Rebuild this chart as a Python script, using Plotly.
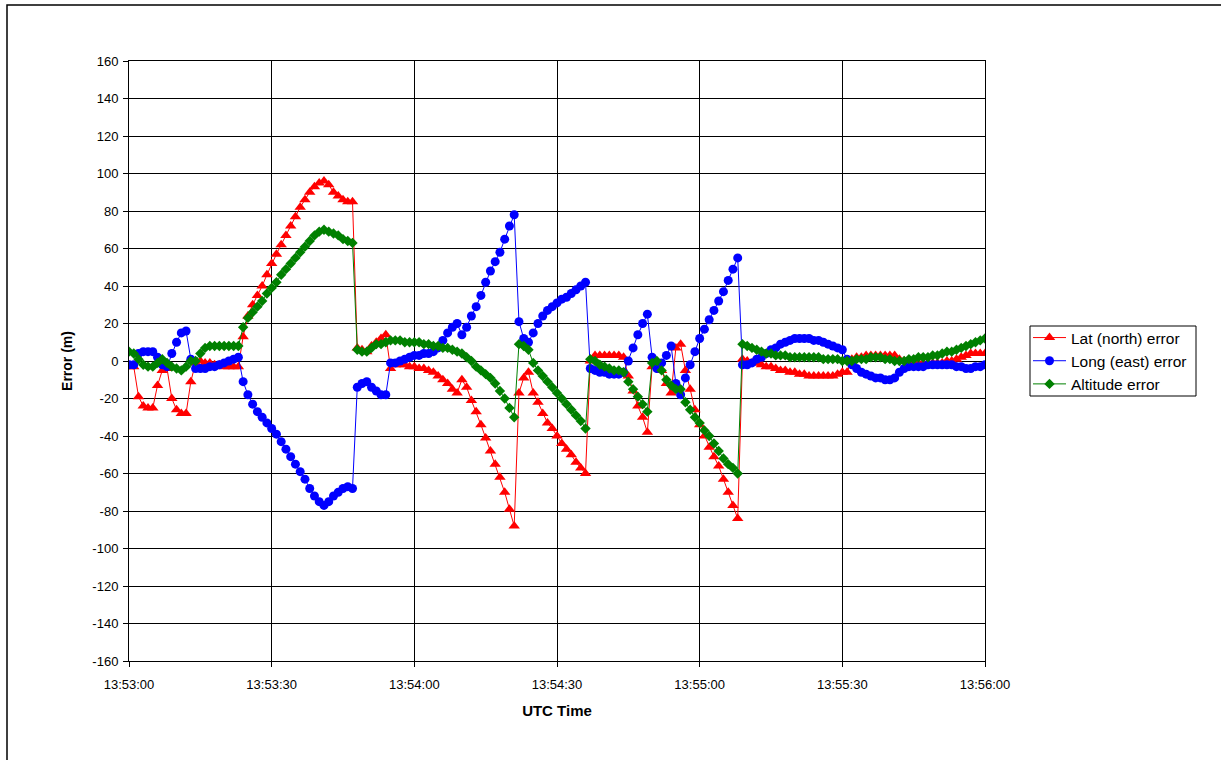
import pandas as pd
import plotly.graph_objects as go

# Position error samples logged once per second from 13:53:00 to 13:56:00
start_time = "2009-06-01 13:53:00"
n_samples = 181

lat_error = [
    -3, -3, -19, -24, -25, -25, -13, -5, -4, -20,
    -26, -28, -28, -11, -1, 0, -1, -1, -2, -2,
    -3, -3, -3, -3, 13, 24, 30, 35, 40, 46,
    52, 57, 62, 67, 72, 77, 82, 86, 90, 93,
    95, 96, 94, 90, 88, 86, 85, 85, 7, 6,
    5, 8, 10, 12, 14, -4, -2, -2, -2, -3,
    -3, -4, -4, -5, -6, -8, -10, -12, -15, -17,
    -10, -14, -21, -27, -34, -41, -48, -55, -62, -70,
    -79, -88, -17, -9, -6, -17, -22, -28, -33, -36,
    -40, -44, -47, -50, -54, -57, -60, 0, 3, 3,
    3, 3, 3, 3, 2, -8, -16, -24, -30, -38,
    -3, -2, -5, -12, -17, 7, 9, -5, -15, -26,
    -34, -40, -46, -51, -56, -63, -70, -77, -84, 1,
    0, -1, -1, -2, -3, -3, -4, -5, -5, -6,
    -6, -7, -7, -8, -8, -8, -8, -8, -8, -7,
    -6, -6, 1, 2, 2, 3, 3, 3, 3, 3,
    3, 3, 1, 0, -1, -1, -1, -1, -1, -1,
    -1, -1, 0, 0, 1, 2, 3, 4, 4, 4,
    4,
]

long_error = [
    -2, -2, 4, 5, 5, 5, 2, -2, -3, 4,
    10, 15, 16, 1, -4, -4, -4, -3, -3, -2,
    -1, 0, 1, 2, -11, -18, -23, -27, -30, -33,
    -36, -39, -43, -47, -51, -55, -59, -63, -68, -72,
    -75, -77, -75, -72, -70, -68, -67, -68, -14, -12,
    -11, -14, -16, -18, -18, -1, -1, 0, 1, 2,
    3, 3, 4, 4, 5, 7, 11, 15, 18, 20,
    14, 18, 24, 29, 35, 42, 48, 53, 58, 65,
    72, 78, 21, 12, 10, 15, 20, 24, 27, 29,
    31, 33, 34, 36, 38, 40, 42, -4, -5, -6,
    -6, -7, -7, -7, -6, 0, 7, 14, 20, 25,
    2, -4, -1, 3, 8, -12, -18, -9, -2, 5,
    12, 17, 22, 27, 32, 37, 43, 49, 55, -2,
    -2, -1, 1, 2, 4, 6, 7, 9, 10, 11,
    12, 12, 12, 12, 11, 11, 10, 9, 8, 7,
    6, 1, -2, -4, -6, -7, -8, -9, -9, -10,
    -10, -9, -6, -4, -3, -3, -3, -3, -2, -2,
    -2, -2, -2, -2, -3, -3, -4, -4, -3, -3,
    -2,
]

alt_error = [
    5, 4, 1, -2, -3, -3, -1, 1, -1, -3,
    -4, -5, -3, 0, 0, 4, 7, 8, 8, 8,
    8, 8, 8, 8, 18, 23, 26, 29, 32, 36,
    39, 42, 46, 49, 52, 55, 58, 61, 64, 67,
    69, 70, 69, 68, 67, 65, 64, 63, 6, 5,
    5, 7, 9, 9, 10, 11, 11, 11, 10, 10,
    10, 10, 9, 9, 8, 8, 7, 7, 6, 5,
    4, 2, 0, -3, -5, -7, -9, -12, -16, -20,
    -25, -30, 9, 8, 6, -1, -5, -8, -11, -14,
    -17, -20, -23, -26, -29, -32, -36, 1, 0, -2,
    -3, -4, -5, -5, -6, -11, -15, -19, -23, -27,
    -1, 0, -5, -10, -13, -15, -15, -22, -26, -30,
    -33, -37, -40, -44, -48, -52, -55, -57, -60, 9,
    8, 7, 6, 5, 4, 4, 3, 3, 3, 2,
    2, 2, 2, 2, 2, 2, 1, 1, 1, 1,
    0, 0, 0, 1, 1, 1, 2, 2, 2, 1,
    1, 0, 0, 0, 1, 1, 2, 2, 2, 3,
    3, 4, 5, 5, 6, 7, 8, 9, 10, 11,
    12,
]

series_names = ["Lat (north) error", "Long (east) error", "Altitude error"]
series_colors = ["#FF0000", "#0000FF", "#008000"]
series_symbols = ["triangle-up", "circle", "diamond"]
series_sizes = [10, 9, 8]

y_ticks = list(range(-160, 161, 20))
y_tick_labels = [str(v) for v in y_ticks]  # plain hyphen for negatives

times = pd.date_range(start=start_time, periods=n_samples, freq="s")

FONT = "Liberation Sans, Arial, sans-serif"

fig = go.Figure()
for name, values, color, symbol, size in zip(
    series_names, [lat_error, long_error, alt_error],
    series_colors, series_symbols, series_sizes,
):
    fig.add_trace(go.Scatter(
        x=times, y=values, name=name, mode="lines+markers",
        line=dict(color=color, width=1),
        marker=dict(symbol=symbol, size=size, color=color,
                    line=dict(width=0)),
    ))

W, H = 1221, 760
L, R, T, B = 129, 985, 61, 661


def px_x(p):
    return (p - L) / (R - L)


def px_y(p):
    return (B - p) / (B - T)


fig.update_layout(
    width=W, height=H,
    margin=dict(l=L, r=W - R, t=T, b=H - B, pad=0),
    paper_bgcolor="white", plot_bgcolor="white",
    font=dict(family=FONT, size=13, color="black"),
    showlegend=True,
    legend=dict(
        x=px_x(1028), y=px_y(321), xanchor="left", yanchor="top",
        borderwidth=0, bgcolor="rgba(0,0,0,0)",
        font=dict(family=FONT, size=15.5, color="black"),
        itemwidth=33, tracegroupgap=0,
    ),
    shapes=[
        # outer chart-area frame
        dict(type="rect", xref="paper", yref="paper",
             x0=px_x(7), x1=px_x(1240), y0=px_y(780), y1=px_y(5),
             line=dict(color="black", width=1.5), fillcolor="rgba(0,0,0,0)",
             layer="below"),
        # legend frame
        dict(type="rect", xref="paper", yref="paper",
             x0=px_x(1030), x1=px_x(1196), y0=px_y(396), y1=px_y(326),
             line=dict(color="black", width=1), fillcolor="white",
             layer="below"),
    ],
)

fig.update_xaxes(
    type="date",
    range=[times[0], times[-1]],
    tick0=times[0], dtick=30000, tickformat="%H:%M:%S",
    showgrid=True, gridcolor="black", gridwidth=1,
    showline=True, linecolor="black", linewidth=1, mirror=True,
    ticks="outside", ticklen=5, tickcolor="black",
    ticklabelstandoff=6,
    tickfont=dict(family=FONT, size=13),
    title=dict(text="<b>UTC Time</b>", font=dict(family=FONT, size=15), standoff=14),
    zeroline=False,
)
fig.update_yaxes(
    range=[-160, 160], tickvals=y_ticks, ticktext=y_tick_labels,
    showgrid=True, gridcolor="black", gridwidth=1,
    showline=True, linecolor="black", linewidth=1, mirror=True,
    ticks="outside", ticklen=5, tickcolor="black",
    ticklabelstandoff=2,
    tickfont=dict(family=FONT, size=13),
    title=dict(text="<b>Error (m)</b>", font=dict(family=FONT, size=14), standoff=16),
    zeroline=False,
)

fig.write_html("out.html")
